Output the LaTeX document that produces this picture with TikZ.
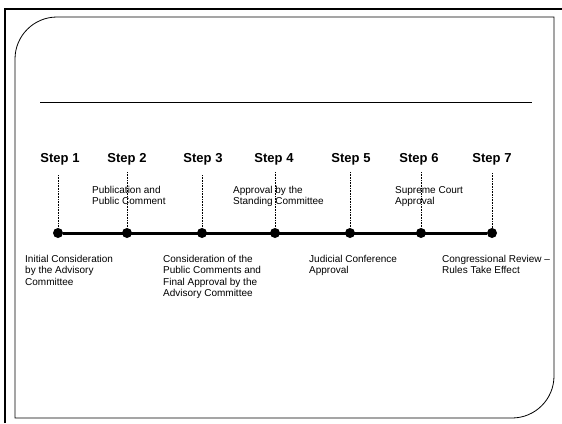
\documentclass[tikz,border=0pt]{standalone}
\usepackage{fontspec}
\setmainfont{Liberation Sans}
\begin{document}
\begin{tikzpicture}[x=1pt,y=-1pt,
  steplabel/.style={font=\fontsize{13}{15}\selectfont\bfseries, anchor=base, inner sep=0},
  desc/.style={font=\fontsize{10}{11.5}\selectfont, anchor=north west, align=left, inner sep=0},
  dot/.style={circle, fill=black, minimum size=10pt, inner sep=0},
  tick/.style={densely dotted, line width=0.6pt},
  frameline/.style={line width=0.8pt}]
\useasboundingbox (0,0) rectangle (562,423);
% outer frame
\draw[line width=2pt] (5,423) -- (5,9) -- (562,9);
% inner frame
\draw[frameline] (15,418) -- (15,59) .. controls (15,35.8) and (33.8,17) .. (57,17)
  -- (554,17) -- (554,376) .. controls (554,399.2) and (535.2,418) .. (512,418) -- cycle;
% title rule
\draw[line width=1pt] (40,102) -- (532,102);
% dots
\node[dot] (d1) at (58,233) {};
\node[dot] (d2) at (127,233) {};
\node[dot] (d3) at (202,233) {};
\node[dot] (d4) at (275,233) {};
\node[dot] (d5) at (350,233) {};
\node[dot] (d6) at (421,233) {};
\node[dot] (d7) at (492,233) {};
\draw[line width=3pt] (d1) -- (d7);
% ticks
\coordinate (t1) at (58,175);
\coordinate (t2) at (127,172);
\coordinate (t3) at (202,175);
\coordinate (t4) at (275,172);
\coordinate (t5) at (350,172);
\coordinate (t6) at (421,172);
\coordinate (t7) at (492,173);
\foreach \i in {1,...,7} {\draw[tick] (t\i) -- (d\i.north);}
% step labels
\node[steplabel] (s1) at (60,162) {Step 1};
\node[steplabel] (s2) at (127,162) {Step 2};
\node[steplabel] (s3) at (203,162) {Step 3};
\node[steplabel] (s4) at (274,162) {Step 4};
\node[steplabel] (s5) at (351,162) {Step 5};
\node[steplabel] (s6) at (419,162) {Step 6};
\node[steplabel] (s7) at (492,162) {Step 7};
% descriptions above
\node[desc] (a2) at (92,186) {Publication and\\Public Comment};
\node[desc] (a4) at (233,186) {Approval by the\\Standing Committee};
\node[desc] (a6) at (395,186) {Supreme Court\\Approval};
% descriptions below
\node[desc] (b1) at (25,255) {Initial Consideration\\by the Advisory\\Committee};
\node[desc] (b3) at (163,255) {Consideration of the\\Public Comments and\\Final Approval by the\\Advisory Committee};
\node[desc] (b5) at (309,255) {Judicial Conference\\Approval};
\node[desc] (b7) at (442,255) {Congressional Review --\\Rules Take Effect};
\end{tikzpicture}
\end{document}
